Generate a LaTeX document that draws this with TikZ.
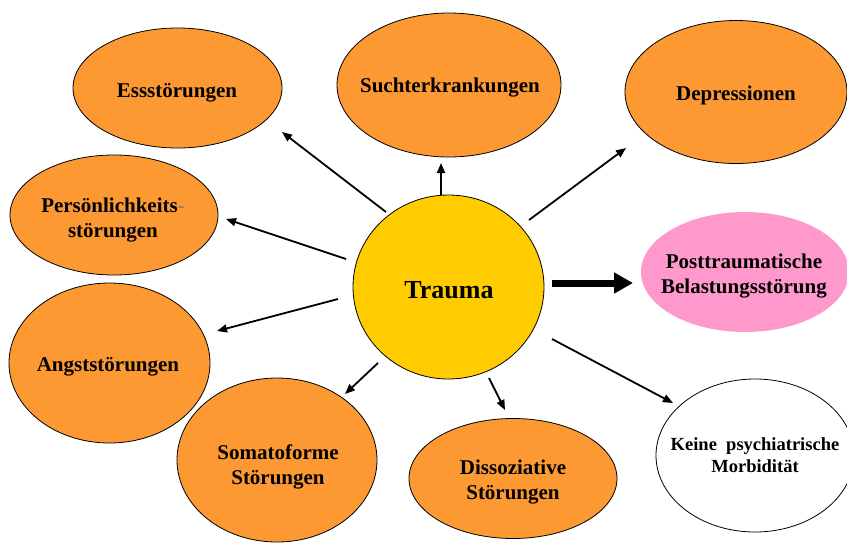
\documentclass[tikz,border=0pt]{standalone}
\usepackage{fontspec}
\setmainfont{Liberation Serif}
\usetikzlibrary{shapes.geometric,arrows.meta}
\definecolor{orng}{RGB}{253,153,51}
\definecolor{gold}{RGB}{255,204,0}
\definecolor{pinkish}{RGB}{255,153,204}
\begin{document}
\begin{tikzpicture}[x=1pt,y=-1pt,
  blob/.style={ellipse, draw=black, line width=0.8pt, inner sep=0pt, fill=orng},
  lbl/.style={font=\bfseries\fontsize{21}{25}\selectfont, align=center, inner sep=0pt},
  arr/.style={line width=1.8pt, -{Triangle[length=10pt,width=8pt]}},
  bigarr/.style={line width=7pt, -{Triangle[length=19pt,width=20pt]}}]
\useasboundingbox (0,0) rectangle (847,542);
\clip (0,0) rectangle (847,542);

% shapes
\node[blob, minimum width=209pt, minimum height=120pt] (ess) at (177.5,88) {};
\node[blob, minimum width=224pt, minimum height=144pt] (sucht) at (449,85) {};
\node[blob, minimum width=222pt, minimum height=143pt] (dep) at (736,92) {};
\node[blob, minimum width=208pt, minimum height=120pt] (pers) at (114,215) {};
\node[blob, minimum width=201pt, minimum height=160pt] (angst) at (109.5,363) {};
\node[blob, minimum width=200pt, minimum height=164pt] (soma) at (277,460) {};
\node[blob, minimum width=208pt, minimum height=120pt] (diss) at (513,478.5) {};
\node[blob, fill=gold, minimum width=191pt, minimum height=184pt] (trauma) at (448.5,287) {};
\node[ellipse, inner sep=0pt, fill=pinkish, minimum width=208pt, minimum height=120pt] (ptbs) at (745,272) {};
\node[blob, fill=white, minimum width=198pt, minimum height=153pt] (keine) at (755,455.5) {};

% labels
\node[lbl] (esst) at (177,92.5) {Essstörungen};
\node[lbl] (suchtt) at (450,88) {Suchterkrankungen};
\node[lbl] (dept) at (736,95.5) {Depressionen};
\node[lbl] (perst) at (113,220.5) {Persönlichkeits\textcolor{gray}{-}\\störungen};
\node[lbl] (angstt) at (108,366.5) {Angststörungen};
\node[lbl] (somat) at (278,466.5) {Somatoforme\\Störungen};
\node[lbl] (disst) at (513,482.5) {Dissoziative\\Störungen};
\node[lbl, font=\bfseries\fontsize{26}{30}\selectfont] (traumat) at (449,290.5) {Trauma};
\node[lbl] (ptbst) at (744,276.5) {Posttraumatische\\Belastungsstörung};
\node[lbl, font=\bfseries\fontsize{18.5}{22}\selectfont] (keinet) at (755,455.5) {Keine\ \ psychiatrische\\Morbidität};

% connector ends
\coordinate (s1) at (386,212); \coordinate (e1) at (282,132);
\coordinate (s2) at (346,259); \coordinate (e2) at (226,219);
\coordinate (s3) at (441,195); \coordinate (e3) at (441,163);
\coordinate (s4) at (529,220); \coordinate (e4) at (626,148);
\coordinate (s5) at (552,283); \coordinate (e5) at (633,283);
\coordinate (s6) at (338,299); \coordinate (e6) at (217,331);
\coordinate (s7) at (378,363); \coordinate (e7) at (345,394);
\coordinate (s8) at (489,378); \coordinate (e8) at (505,410);
\coordinate (s9) at (552,339); \coordinate (e9) at (673,403);

\draw[arr] (s1) -- (e1);
\draw[arr] (s2) -- (e2);
\draw[arr] (s3) -- (e3);
\draw[arr] (s4) -- (e4);
\draw[bigarr] (s5) -- (e5);
\draw[arr] (s6) -- (e6);
\draw[arr] (s7) -- (e7);
\draw[arr] (s8) -- (e8);
\draw[arr] (s9) -- (e9);
\end{tikzpicture}
\end{document}
